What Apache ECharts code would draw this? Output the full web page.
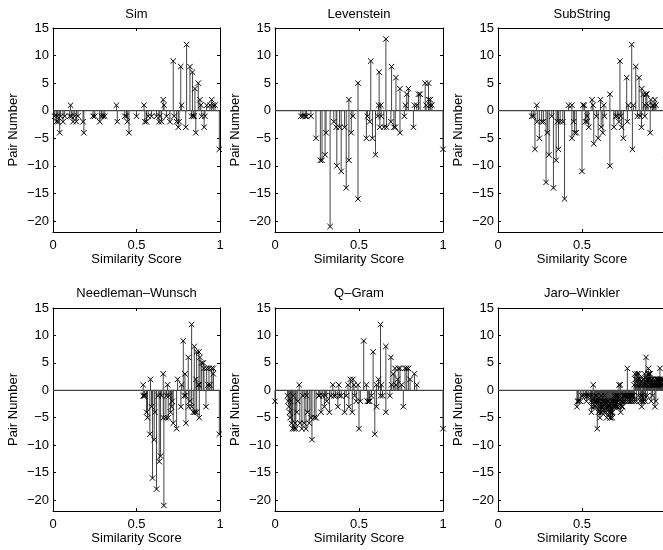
<!DOCTYPE html>
<html><head><meta charset="utf-8">
<script src="https://cdn.jsdelivr.net/npm/echarts@6/dist/echarts.min.js"></script>
<style>html,body{margin:0;padding:0;background:#fff}#c{width:663px;height:550px}</style>
</head><body><div id="c"></div>
<script>
const panelTitles = ['Sim', 'Levenstein', 'SubString', 'Needleman–Wunsch', 'Q–Gram', 'Jaro–Winkler'];
const xAxisTitle = 'Similarity Score';
const yAxisTitle = 'Pair Number';
const xTicks = [0, 0.5, 1];
const yTicks = [-20, -15, -10, -5, 0, 5, 10, 15];
const yRange = [-22, 15];
const xRange = [0, 1];

// [similarity score, pair number]
const simPairs = [[0.01,-1],[0.02,-2],[0.025,-1],[0.03,-2],[0.04,-4],[0.045,-1],[0.06,-2],[0.07,-1],[0.1,-1],[0.105,1],[0.11,-1],[0.12,-2],[0.13,-1],[0.14,-2],[0.15,-1],[0.18,-2],[0.185,-4],[0.24,-1],[0.25,-1],[0.28,-2],[0.29,-1],[0.3,-1],[0.31,-1],[0.38,1],[0.385,-2],[0.43,-1],[0.44,-1],[0.445,-2],[0.455,-4],[0.5,-1],[0.545,1],[0.55,-2],[0.56,-2],[0.57,-1],[0.59,-1],[0.62,-1],[0.635,-2],[0.64,-1],[0.65,-2],[0.66,2],[0.665,1],[0.68,-1],[0.7,-2],[0.72,9],[0.725,-1],[0.74,-2],[0.75,-3],[0.755,-2],[0.765,8],[0.77,1],[0.795,-3],[0.8,12],[0.82,8],[0.83,-1],[0.835,7],[0.84,-1],[0.845,-1],[0.85,4],[0.855,-4],[0.87,5],[0.88,2],[0.885,1],[0.89,-1],[0.905,-3],[0.91,-1],[0.92,1],[0.94,1],[0.95,2],[0.96,1],[0.97,1],[0.996,-7]];

const levPairs = [[0.154,-1],[0.166,-1],[0.18,-1],[0.188,-1],[0.214,-1],[0.244,-5],[0.27,-9],[0.28,-9],[0.298,-8],[0.304,-4],[0.328,-21],[0.35,-2],[0.364,-3],[0.368,-10],[0.384,-3],[0.394,-11],[0.414,-3],[0.424,-14],[0.44,2],[0.44,-9],[0.454,-4],[0.464,-1],[0.494,5],[0.494,-16],[0.544,-5],[0.55,-1],[0.564,-2],[0.57,9],[0.58,-5],[0.598,-8],[0.612,-1],[0.616,1],[0.62,7],[0.624,-3],[0.63,1],[0.632,-1],[0.648,-3],[0.66,13],[0.664,-3],[0.69,-2],[0.694,8],[0.708,-3],[0.716,-3],[0.72,6],[0.744,4],[0.744,-4],[0.77,-1],[0.776,1],[0.784,3],[0.794,4],[0.824,-3],[0.83,1],[0.844,1],[0.854,3],[0.864,3],[0.894,5],[0.9,1],[0.914,5],[0.914,2],[0.924,2],[0.924,1],[0.934,1],[1.0,-7]];

const subPairs = [[0.2,-1],[0.21,-1],[0.22,-7],[0.23,1],[0.234,-2],[0.246,-5],[0.26,-2],[0.27,-2],[0.286,-13],[0.294,-4],[0.304,-8],[0.32,-1],[0.33,-14],[0.346,-9],[0.354,-2],[0.36,-7],[0.37,-2],[0.386,-2],[0.396,-16],[0.42,1],[0.44,1],[0.44,-5],[0.45,-2],[0.456,-4],[0.466,-4],[0.5,-11],[0.506,1],[0.514,1],[0.52,-2],[0.53,-2],[0.53,-1],[0.54,-3],[0.56,2],[0.566,1],[0.57,-6],[0.586,-1],[0.596,-5],[0.61,2],[0.614,-3],[0.624,-4],[0.63,1],[0.634,-1],[0.666,3],[0.666,-10],[0.69,-3],[0.7,-1],[0.71,-1],[0.72,-2],[0.726,9],[0.73,-1],[0.736,-3],[0.746,-5],[0.766,6],[0.77,-2],[0.776,1],[0.796,12],[0.8,-7],[0.806,1],[0.82,8],[0.83,-1],[0.84,6],[0.846,-1],[0.854,-3],[0.856,4],[0.866,3],[0.874,-1],[0.876,1],[0.88,3],[0.886,3],[0.894,1],[0.906,-4],[0.91,2],[0.92,1],[0.926,1],[0.934,2],[0.94,1],[1.0,-8]];

const nwPairs = [[0.54,1],[0.54,-1],[0.546,-1],[0.55,-1],[0.56,-4],[0.566,-5],[0.58,-8],[0.584,2],[0.59,-3],[0.596,-16],[0.606,-9],[0.61,-4],[0.62,-18],[0.63,-1],[0.636,-13],[0.644,-12],[0.65,-1],[0.66,3],[0.66,-5],[0.664,-21],[0.676,-5],[0.68,-1],[0.686,1],[0.69,-5],[0.696,-1],[0.704,-4],[0.71,-3],[0.714,-2],[0.72,-6],[0.74,-7],[0.746,2],[0.766,-3],[0.77,1],[0.78,9],[0.786,-1],[0.79,3],[0.794,-1],[0.796,-6],[0.81,6],[0.812,-3],[0.82,-2],[0.83,12],[0.83,-3],[0.84,-4],[0.846,8],[0.85,-4],[0.856,2],[0.86,7],[0.86,-4],[0.87,1],[0.874,7],[0.876,-5],[0.876,1],[0.88,6],[0.89,5],[0.9,5],[0.904,4],[0.916,-3],[0.92,4],[0.928,1],[0.934,4],[0.94,1],[0.95,4],[0.96,4],[0.96,3],[0.996,-8]];

const qgPairs = [[0.0,-2],[0.074,-1],[0.078,-2],[0.082,-3],[0.088,-4],[0.09,-5],[0.094,-2],[0.098,-6],[0.104,-7],[0.108,-1],[0.114,-7],[0.12,-6],[0.124,-7],[0.13,-4],[0.136,-2],[0.144,1],[0.148,-6],[0.16,-7],[0.166,-1],[0.174,-6],[0.184,-7],[0.188,-1],[0.194,-4],[0.204,-6],[0.214,-5],[0.22,-9],[0.234,-5],[0.244,-5],[0.26,-1],[0.264,-1],[0.274,-4],[0.284,-1],[0.294,-3],[0.3,-1],[0.308,-2],[0.324,-4],[0.334,-1],[0.344,1],[0.35,-1],[0.36,-1],[0.374,-3],[0.38,1],[0.384,-1],[0.394,-1],[0.414,-4],[0.424,-1],[0.434,1],[0.44,-3],[0.448,2],[0.46,-4],[0.464,2],[0.47,1],[0.474,-1],[0.484,-2],[0.494,1],[0.5,-7],[0.508,-2],[0.528,9],[0.544,1],[0.55,-2],[0.558,-2],[0.564,-2],[0.574,-1],[0.584,7],[0.594,-8],[0.604,-3],[0.604,1],[0.616,2],[0.628,12],[0.628,-1],[0.634,1],[0.64,-1],[0.66,8],[0.66,-4],[0.684,-1],[0.69,6],[0.694,1],[0.704,3],[0.714,4],[0.72,1],[0.73,2],[0.734,4],[0.744,4],[0.754,1],[0.764,-3],[0.774,4],[0.784,4],[0.794,4],[0.804,2],[0.83,3],[0.844,1],[1.0,-7]];

const jwPairs = [[0.47,-3],[0.474,-2],[0.48,-2],[0.49,-2],[0.5,-1],[0.51,-1],[0.52,-1],[0.526,-2],[0.53,-1],[0.54,-1],[0.55,-1],[0.552,-2],[0.556,-4],[0.558,-3],[0.562,-1],[0.565,-2],[0.567,1],[0.572,-3],[0.574,-2],[0.578,-2],[0.58,-1],[0.583,-3],[0.586,-2],[0.588,-1],[0.591,-7],[0.595,-2],[0.598,-4],[0.6,-3],[0.603,-2],[0.607,-5],[0.61,-4],[0.612,-3],[0.614,-1],[0.617,-4],[0.62,-3],[0.622,-2],[0.624,-2],[0.627,-3],[0.63,-2],[0.632,-4],[0.634,-1],[0.637,-2],[0.64,-3],[0.642,-3],[0.644,-4],[0.647,-5],[0.65,-2],[0.652,-3],[0.656,-3],[0.658,-2],[0.66,-4],[0.663,-3],[0.666,-5],[0.668,-4],[0.67,-5],[0.672,-3],[0.674,-4],[0.677,-2],[0.68,-5],[0.682,-4],[0.684,-2],[0.687,-3],[0.69,-3],[0.692,-2],[0.694,-1],[0.697,-3],[0.7,-2],[0.702,-2],[0.704,-1],[0.707,-3],[0.71,-3],[0.712,-1],[0.714,-2],[0.717,-2],[0.72,1],[0.722,-3],[0.724,-1],[0.728,1],[0.73,-4],[0.732,-2],[0.736,-3],[0.74,-2],[0.742,-3],[0.746,-1],[0.75,-2],[0.752,-1],[0.756,-1],[0.76,-2],[0.762,-1],[0.766,-1],[0.77,4],[0.772,-2],[0.776,-1],[0.78,-1],[0.782,-2],[0.786,-1],[0.79,-2],[0.792,-1],[0.796,-1],[0.8,-2],[0.802,-1],[0.806,-1],[0.81,1],[0.812,-2],[0.815,3],[0.818,2],[0.82,2],[0.824,-2],[0.826,1],[0.828,3],[0.832,2],[0.836,-1],[0.838,3],[0.84,2],[0.842,1],[0.846,-2],[0.848,2],[0.85,-1],[0.852,1],[0.855,-3],[0.858,-1],[0.86,-2],[0.862,2],[0.864,1],[0.866,-2],[0.868,1],[0.87,2],[0.872,3],[0.874,-1],[0.876,1],[0.878,-2],[0.881,6],[0.884,2],[0.886,1],[0.888,-1],[0.89,2],[0.892,3],[0.895,4],[0.898,2],[0.9,3],[0.902,1],[0.904,2],[0.906,3],[0.91,1],[0.912,-2],[0.914,2],[0.918,1],[0.92,-1],[0.922,2],[0.924,1],[0.926,1],[0.93,1],[0.932,2],[0.934,-3],[0.936,1],[0.94,-2],[0.942,2],[0.944,1],[0.946,1],[0.948,2],[0.95,1],[0.952,1],[0.954,2],[0.956,1],[0.958,1],[0.962,2],[0.964,4],[0.966,2],[0.968,1],[0.97,1],[0.972,2],[0.974,2],[0.976,1],[0.978,1],[0.98,2],[0.998,-7]];

const panelData = [simPairs, levPairs, subPairs, nwPairs, qgPairs, jwPairs];

const grids = [
  {left: 53, top: 28, width: 167, height: 204},
  {left: 275, top: 28, width: 168, height: 204},
  {left: 498, top: 28, width: 168, height: 204},
  {left: 53, top: 308, width: 167, height: 203},
  {left: 275, top: 308, width: 168, height: 203},
  {left: 498, top: 308, width: 168, height: 203}
];

const FONT = '"Liberation Sans", Arial, Helvetica, sans-serif';
const txt = {color: '#000', fontSize: 13, fontFamily: FONT};
const minusFmt = v => (v < 0 ? '\u2212' + Math.abs(v) : String(v));

const xAxes = [], yAxes = [], series = [];

function stemItem(params, api) {
  const x = api.value(0), y = api.value(1);
  const p = api.coord([x, y]);
  const b = api.coord([x, 0]);
  return {type: 'line', shape: {x1: p[0], y1: b[1], x2: p[0], y2: p[1]},
          style: {stroke: '#444', lineWidth: 1}};
}
function crossItem(params, api) {
  const p = api.coord([api.value(0), api.value(1)]);
  const s = 2.7;
  return {type: 'group', children: [
    {type: 'line', shape: {x1: p[0]-s, y1: p[1]-s, x2: p[0]+s, y2: p[1]+s}, style: {stroke: '#000', lineWidth: 1}},
    {type: 'line', shape: {x1: p[0]-s, y1: p[1]+s, x2: p[0]+s, y2: p[1]-s}, style: {stroke: '#000', lineWidth: 1}}
  ]};
}

panelData.forEach((pairs, i) => {
  const row = i < 3 ? 0 : 1;
  const axLine = {show: true, onZero: false, lineStyle: {color: '#000', width: 1}};
  xAxes.push({
    gridIndex: i, type: 'value', position: 'bottom', min: xRange[0], max: xRange[1], interval: 0.5,
    axisLine: axLine, axisTick: {show: true, inside: true, length: 3, lineStyle: {color: '#000'}},
    axisLabel: {show: true, margin: 7, ...txt, formatter: v => String(v)},
    splitLine: {show: false},
    name: xAxisTitle, nameLocation: 'middle', nameGap: 19, nameTextStyle: txt
  });
  xAxes.push({
    gridIndex: i, type: 'value', position: 'top', min: xRange[0], max: xRange[1], interval: 0.5,
    axisLine: axLine, axisTick: {show: true, inside: true, length: 3, lineStyle: {color: '#000'}},
    axisLabel: {show: false}, splitLine: {show: false},
    name: panelTitles[i], nameLocation: 'middle', nameGap: row === 0 ? 7 : 8, nameTextStyle: txt
  });
  yAxes.push({
    gridIndex: i, type: 'value', position: 'left', min: yRange[0], max: yRange[1],
    axisLine: axLine,
    axisTick: {show: true, inside: true, length: 3, customValues: yTicks, lineStyle: {color: '#000'}},
    axisLabel: {show: true, margin: 4, customValues: yTicks, ...txt, formatter: minusFmt},
    splitLine: {show: false},
    name: yAxisTitle, nameLocation: 'middle', nameGap: 33, nameTextStyle: txt
  });
  yAxes.push({
    gridIndex: i, type: 'value', position: 'right', min: yRange[0], max: yRange[1],
    axisLine: axLine,
    axisTick: {show: true, inside: true, length: 3, customValues: yTicks, lineStyle: {color: '#000'}},
    axisLabel: {show: false}, splitLine: {show: false}
  });
  series.push({
    type: 'custom', xAxisIndex: 2*i, yAxisIndex: 2*i, data: pairs,
    encode: {x: 0, y: 1}, renderItem: stemItem, silent: true
  });
  series.push({
    type: 'line', xAxisIndex: 2*i, yAxisIndex: 2*i, data: [[xRange[0], 0], [xRange[1], 0]],
    symbol: 'none', lineStyle: {color: '#444', width: 1.2}, silent: true
  });
  series.push({
    type: 'custom', xAxisIndex: 2*i, yAxisIndex: 2*i, data: pairs,
    encode: {x: 0, y: 1}, renderItem: crossItem, silent: true
  });
});

const chart = echarts.init(document.getElementById('c'), null, {renderer: 'canvas'});
chart.setOption({
  animation: false,
  backgroundColor: '#fff',
  grid: grids.map(g => ({...g, containLabel: false, outerBoundsMode: 'none'})),
  xAxis: xAxes,
  yAxis: yAxes,
  series: series
});
</script>
</body></html>
